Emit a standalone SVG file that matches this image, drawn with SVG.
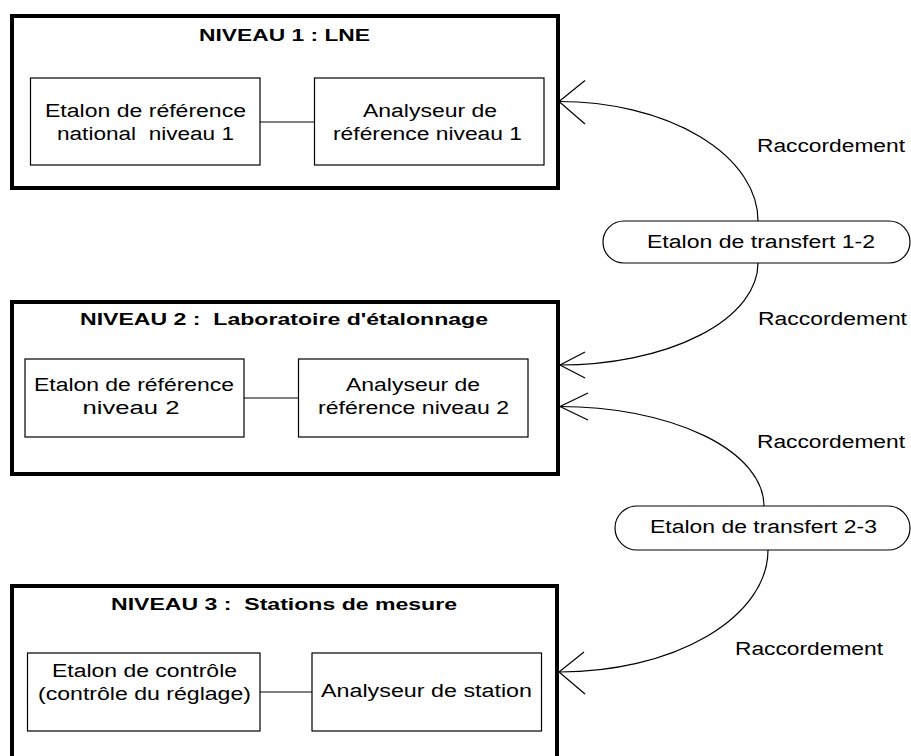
<svg xmlns="http://www.w3.org/2000/svg" width="911" height="756" viewBox="0 0 911 756">
<style>
.outer{fill:#fff;stroke:#000;stroke-width:4}
.inner{fill:#fff;stroke:#000;stroke-width:1.2}
.pill{fill:#fff;stroke:#000;stroke-width:1.2}
.ln{fill:none;stroke:#000;stroke-width:1.2}
text{font-family:"Liberation Sans",Arial,sans-serif;font-size:18px;fill:#000;text-anchor:middle}
.t{font-weight:bold;font-size:17px}
</style>
<rect width="911" height="756" fill="#fff"/>
<g id="niveau1">
<rect class="outer" x="12" y="16" width="546" height="172"/>
<text class="t" x="284.5" y="41" textLength="171" lengthAdjust="spacingAndGlyphs">NIVEAU 1 : LNE</text>
<g id="etalon1">
<rect class="inner" x="30.5" y="78" width="229.5" height="87"/>
<text x="145.5" y="117" textLength="201" lengthAdjust="spacingAndGlyphs">Etalon de référence</text>
<text x="145.5" y="140" textLength="177" lengthAdjust="spacingAndGlyphs" xml:space="preserve">national  niveau 1</text>
</g>
<g id="analyseur1">
<rect class="inner" x="314.5" y="78" width="229.5" height="87"/>
<text x="430" y="117" textLength="134" lengthAdjust="spacingAndGlyphs">Analyseur de</text>
<text x="427.5" y="140" textLength="189" lengthAdjust="spacingAndGlyphs">référence niveau 1</text>
</g>
</g>
<g id="niveau2">
<rect class="outer" x="12" y="302" width="546" height="172"/>
<text class="t" x="284" y="325" textLength="408" lengthAdjust="spacingAndGlyphs" xml:space="preserve">NIVEAU 2 :  Laboratoire d'étalonnage</text>
<g id="etalon2">
<rect class="inner" x="25" y="359" width="219" height="78"/>
<text x="134" y="391" textLength="200" lengthAdjust="spacingAndGlyphs">Etalon de référence</text>
<text x="131" y="414" textLength="97" lengthAdjust="spacingAndGlyphs">niveau 2</text>
</g>
<g id="analyseur2">
<rect class="inner" x="298.5" y="359" width="229.5" height="78"/>
<text x="413" y="391" textLength="134" lengthAdjust="spacingAndGlyphs">Analyseur de</text>
<text x="413.5" y="414" textLength="191" lengthAdjust="spacingAndGlyphs">référence niveau 2</text>
</g>
</g>
<g id="niveau3">
<rect class="outer" x="12" y="586" width="545" height="200"/>
<text class="t" x="284" y="610" textLength="346" lengthAdjust="spacingAndGlyphs" xml:space="preserve">NIVEAU 3 :  Stations de mesure</text>
<g id="etalon3">
<rect class="inner" x="27.5" y="653" width="232.5" height="78"/>
<text x="144.5" y="677" textLength="185" lengthAdjust="spacingAndGlyphs">Etalon de contrôle</text>
<text x="144.5" y="700" textLength="213" lengthAdjust="spacingAndGlyphs">(contrôle du réglage)</text>
</g>
<g id="analyseur3">
<rect class="inner" x="312" y="653" width="229.5" height="78"/>
<text x="426.5" y="697" textLength="211" lengthAdjust="spacingAndGlyphs">Analyseur de station</text>
</g>
</g>
<g id="transfert12">
<rect class="pill" x="603" y="221" width="307" height="42" rx="21" ry="21"/>
<text x="761" y="248" textLength="228" lengthAdjust="spacingAndGlyphs">Etalon de transfert 1-2</text>
</g>
<g id="transfert23">
<rect class="pill" x="615" y="506" width="295" height="44" rx="22" ry="22"/>
<text x="763.5" y="533" textLength="227" lengthAdjust="spacingAndGlyphs">Etalon de transfert 2-3</text>
</g>
<g id="connectors">
<line class="ln" x1="260" y1="122" x2="314.5" y2="122"/>
<line class="ln" x1="244" y1="398" x2="298.5" y2="398"/>
<line class="ln" x1="260" y1="692" x2="312" y2="692"/>
<path class="ln" d="M559,101.5 A199,119.5 0 0 1 758,221"/>
<path class="ln" d="M585,80.5 L559,101.5 L585,124"/>
<path class="ln" d="M758,263 A198,102 0 0 1 560,365"/>
<path class="ln" d="M585,352 L560,365 L585,378"/>
<path class="ln" d="M560,406.5 A204,99.5 0 0 1 764,506"/>
<path class="ln" d="M588,393 L560,406.5 L588,420"/>
<path class="ln" d="M768,550 A208,122 0 0 1 560,672"/>
<path class="ln" d="M584,652 L559,672 L585,694"/>
<text x="831" y="152" textLength="148" lengthAdjust="spacingAndGlyphs">Raccordement</text>
<text x="832.5" y="325" textLength="149" lengthAdjust="spacingAndGlyphs">Raccordement</text>
<text x="831" y="448" textLength="148" lengthAdjust="spacingAndGlyphs">Raccordement</text>
<text x="809" y="655" textLength="148" lengthAdjust="spacingAndGlyphs">Raccordement</text>
</g>
</svg>
